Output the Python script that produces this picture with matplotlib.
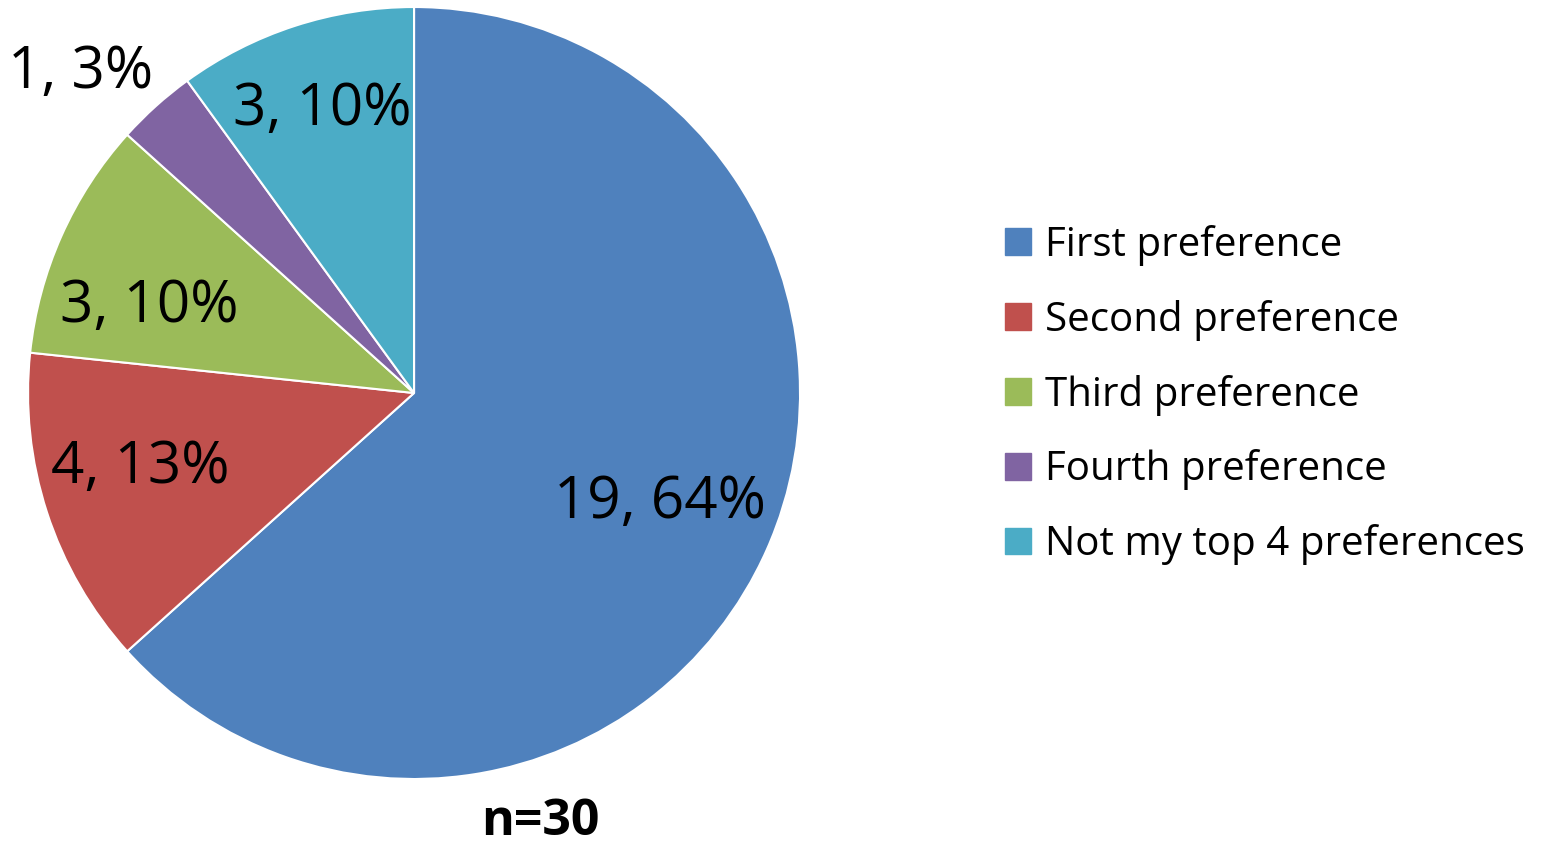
import matplotlib
matplotlib.use("Agg")
import matplotlib.pyplot as plt

plt.rcParams['font.family'] = ['Open Sans', 'DejaVu Sans']

categories = ["First preference", "Second preference", "Third preference",
              "Fourth preference", "Not my top 4 preferences"]
counts = [19, 4, 3, 1, 3]
pct_labels = ["64%", "13%", "10%", "3%", "10%"]
colors = ["#4F81BD", "#C0504D", "#9BBB59", "#8064A2", "#4BACC6"]

# where each data label sits (radius units, pie centre = 0,0)
label_pos = [(0.637, -0.285), (-0.710, -0.194), (-0.687, 0.223),
             (-0.865, 0.829), (-0.238, 0.733)]

fig = plt.figure(figsize=(15.63, 8.46), dpi=100)
ax = fig.add_axes([0.0179, 0.0792, 0.494, 0.9125])

wedges, _ = ax.pie(counts, colors=colors, startangle=90, counterclock=False,
                   radius=1.0, wedgeprops=dict(edgecolor="white", linewidth=1.5))
ax.set_xlim(-1, 1)
ax.set_ylim(-1, 1)
ax.set_aspect("equal")
ax.axis("off")

for c, p, (x, y) in zip(counts, pct_labels, label_pos):
    ax.text(x, y, f"{c}, {p}", ha="center", va="center", fontsize=42,
            color="black", clip_on=False)

fig.text(540 / 1563, 1 - 822 / 846, "n=30", ha="center", va="center",
         fontsize=36, fontweight="bold")

handles = [plt.Rectangle((0, 0), 1, 1, color=col) for col in colors]
fig.legend(handles, categories, loc="center left",
           bbox_to_anchor=(985 / 1563, 1 - 395 / 846), frameon=False,
           fontsize=29, handlelength=0.65, handleheight=0.65,
           handletextpad=0.35, labelspacing=0.84, borderpad=0)

fig.savefig("out.png", dpi=100)
